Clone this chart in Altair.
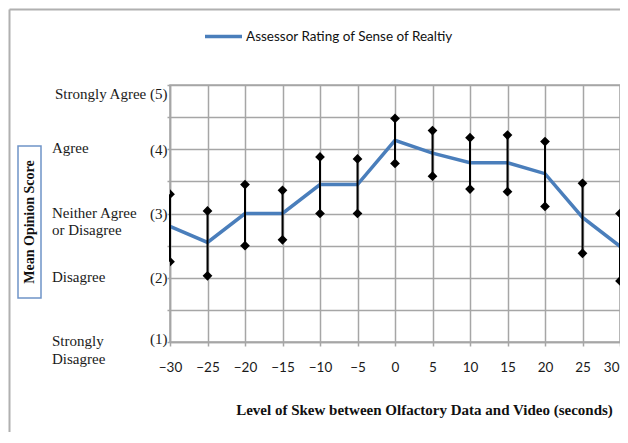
import altair as alt
import pandas as pd

skew = [-30, -25, -20, -15, -10, -5, 0, 5, 10, 15, 20, 25, 30]
mean_score = [2.80, 2.55, 3.00, 3.00, 3.45, 3.45, 4.14, 3.94, 3.79, 3.79, 3.62, 2.94, 2.49]
upper = [3.30, 3.04, 3.45, 3.36, 3.88, 3.85, 4.48, 4.29, 4.18, 4.22, 4.12, 3.47, 3.00]
lower = [2.25, 2.03, 2.50, 2.59, 3.00, 3.00, 3.78, 3.58, 3.38, 3.34, 3.11, 2.38, 1.95]

series_name = "Assessor Rating of Sense of Realtiy"
level_values = [4, 3, 2, 1]
level_names = ["Agree", "Neither Agree\nor Disagree", "Disagree", "Strongly\nDisagree"]
x_ticks = list(range(-30, 35, 5))
y_grid = [1, 1.5, 2, 2.5, 3, 3.5, 4, 4.5, 5]

df = pd.DataFrame({"skew": skew, "mean": mean_score, "upper": upper, "lower": lower,
                   "series": [series_name] * len(skew)})
names_df = pd.DataFrame({"level": level_values, "name": level_names})

GRID = "#a6a6a6"
SERIF = "Liberation Serif"
SANS = "Lato"

xs = alt.Scale(domain=[-30, 30], nice=False, zero=False)
ys = alt.Scale(domain=[1, 5], nice=False, zero=False)

x_axis = alt.Axis(values=x_ticks, grid=True, gridColor=GRID, gridWidth=1.5,
                  domainColor=GRID, domainWidth=1.5, tickColor=GRID, tickWidth=1.5, tickSize=4,
                  labelFont=SANS, labelFontSize=13.5, labelColor="#1a1a1a", labelPadding=14,
                  labelFlush=False, labelOverlap=False,
                  labelAlign=alt.ExprRef("datum.value == 30 ? 'right' : 'center'"),
                  labelOffset=alt.ExprRef("datum.value == 30 ? -1 : 0"),
                  title="Level of Skew between Olfactory  Data and Video (seconds)",
                  titleFont=SERIF, titleFontSize=15, titleFontWeight="bold", titleColor="#111",
                  titleX=254, titleY=67, titleAlign="center", titleBaseline="middle")

y_axis = alt.Axis(values=y_grid, grid=True, gridColor=GRID, gridWidth=1.5,
                  domainColor=GRID, domainWidth=1.5, tickColor=GRID, tickWidth=1.5, tickSize=3,
                  labelExpr="datum.value % 1 != 0 ? '' : (datum.value == 5 ? 'Strongly Agree (' + datum.value + ')' : '(' + datum.value + ')')",
                  labelFont=SERIF, labelFontSize=15, labelColor="#1a1a1a", labelPadding=0,
                  labelBaseline="middle", labelFlush=False, labelOverlap=False, labelLimit=300,
                  labelOffset=alt.ExprRef("datum.value == 5 ? 8 : (datum.value == 1 ? -4 : 0)"),
                  title=None)


def X():
    return alt.X("skew:Q", scale=xs, axis=x_axis)


def Y(field):
    return alt.Y(field, scale=ys, axis=y_axis)


base = alt.Chart(df)

line = base.mark_line(strokeWidth=3.5).encode(
    x=X(), y=Y("mean:Q"),
    color=alt.Color("series:N",
                    scale=alt.Scale(domain=[series_name], range=["#4a7ebb"]),
                    legend=alt.Legend(title=None, orient="none", legendX=33, legendY=-69,
                                      symbolType="stroke", symbolSize=1369, symbolStrokeWidth=3.5,
                                      labelFont=SANS, labelFontSize=13.5, labelColor="#111",
                                      labelOffset=2, padding=0, labelLimit=500)),
)

bars = base.mark_rule(color="black", strokeWidth=2).encode(
    x=X(), y=Y("lower:Q"), y2="upper:Q")

top_pts = base.mark_point(shape="diamond", filled=True, color="black", size=95, opacity=1, clip=True).encode(
    x=X(), y=Y("upper:Q"))
bot_pts = base.mark_point(shape="diamond", filled=True, color="black", size=95, opacity=1, clip=True).encode(
    x=X(), y=Y("lower:Q"))

names = alt.Chart(names_df).mark_text(align="left", baseline="top", dy=-8, font=SERIF,
                                      fontSize=15, color="#1a1a1a", lineBreak="\n",
                                      lineHeight=17.5).encode(
    x=alt.value(-118), y=Y("level:Q"), text="name:N")

deco_df = pd.DataFrame({"t": ["Mean Opinion Score"]})
box = alt.Chart(deco_df).mark_rect(fill="white", stroke="#6f94c8", strokeWidth=1.5).encode(
    x=alt.value(-152), x2=alt.value(-129), y=alt.value(61), y2=alt.value(213))
ytitle = alt.Chart(deco_df).mark_text(angle=270, font=SERIF, fontSize=14, fontWeight="bold",
                                      color="#111", baseline="middle", align="center").encode(
    x=alt.value(-140.5), y=alt.value(137), text="t:N")

frame_left = alt.Chart(deco_df).mark_rule(color="#b0b0b0", strokeWidth=2).encode(
    x=alt.value(-160.5), y=alt.value(-75.5), y2=alt.value(400))
frame_top = alt.Chart(deco_df).mark_rule(color="#b0b0b0", strokeWidth=2).encode(
    x=alt.value(-160.5), x2=alt.value(600), y=alt.value(-75.5))

chart = alt.layer(line, bars, top_pts, bot_pts, names, box, ytitle, frame_left, frame_top).properties(
    width=450, height=257,
    padding={"left": 162, "top": 77, "right": 0, "bottom": 90},
    autosize="none",
).configure_view(stroke=GRID, strokeWidth=1.5)

chart.save("out.html", embed_options={"renderer": "svg", "actions": False})
